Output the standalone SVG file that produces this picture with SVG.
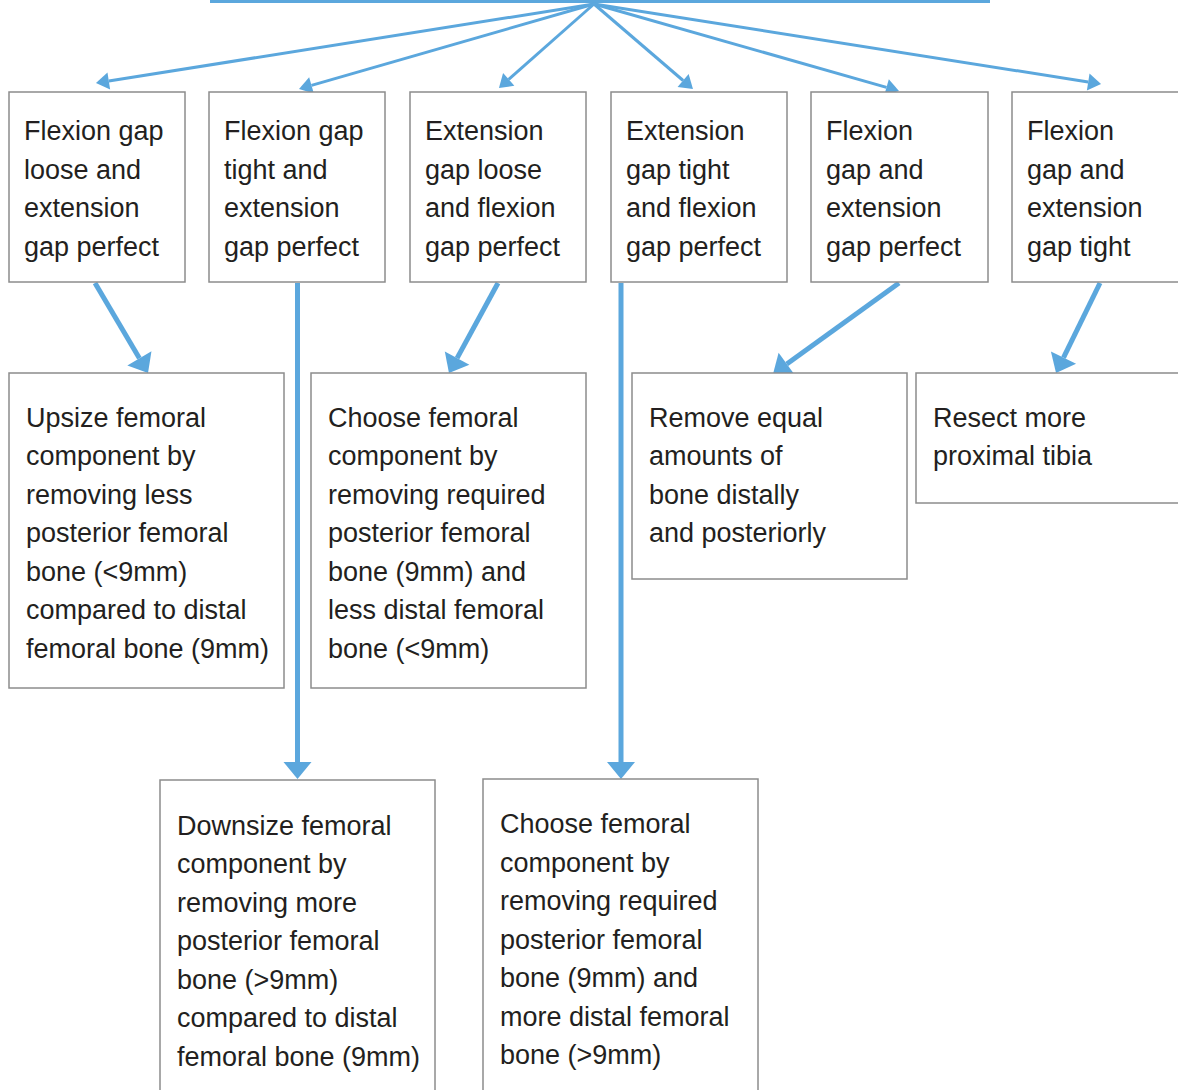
<svg xmlns="http://www.w3.org/2000/svg" width="1178" height="1090" viewBox="0 0 1178 1090">
<style>
.box{fill:#fff;stroke:#8c8c8c;stroke-width:1.5}
.t{font-family:"Liberation Sans",Arial,sans-serif;font-size:27px;fill:#231f20}
.fan{stroke:#5ba7dd;stroke-width:3;fill:none}
.dn{stroke:#5ba7dd;stroke-width:5;fill:none}
</style>
<defs>
<marker id="ah" markerUnits="userSpaceOnUse" markerWidth="13" markerHeight="17" refX="0" refY="8.5" orient="auto" overflow="visible"><path d="M0,0 L13,8.5 L0,17 z" fill="#5ba7dd"/></marker>
<marker id="ah2" markerUnits="userSpaceOnUse" markerWidth="17" markerHeight="28" refX="0" refY="14" orient="auto" overflow="visible"><path d="M0,0 L17,14 L0,28 z" fill="#5ba7dd"/></marker>
</defs>
<rect width="1178" height="1090" fill="#fff"/>
<g id="connectors">
<line class="fan" x1="210" y1="1.5" x2="990" y2="1.5"/>
<line class="fan" x1="594" y1="4" x2="108.8" y2="81" marker-end="url(#ah)"/>
<line class="fan" x1="594" y1="4" x2="311.5" y2="85.4" marker-end="url(#ah)"/>
<line class="fan" x1="594" y1="4" x2="508.7" y2="79.4" marker-end="url(#ah)"/>
<line class="fan" x1="594" y1="4" x2="683.1" y2="80.5" marker-end="url(#ah)"/>
<line class="fan" x1="594" y1="4" x2="886.5" y2="87.4" marker-end="url(#ah)"/>
<line class="fan" x1="594" y1="4" x2="1088.2" y2="82" marker-end="url(#ah)"/>
<line class="dn" x1="95" y1="283" x2="139.4" y2="358.3" marker-end="url(#ah2)"/>
<line class="dn" x1="297.5" y1="283" x2="297.5" y2="762" marker-end="url(#ah2)"/>
<line class="dn" x1="498" y1="283" x2="457.1" y2="358.1" marker-end="url(#ah2)"/>
<line class="dn" x1="621" y1="283" x2="621" y2="762" marker-end="url(#ah2)"/>
<line class="dn" x1="899" y1="283" x2="786.8" y2="364" marker-end="url(#ah2)"/>
<line class="dn" x1="1100" y1="283" x2="1063.5" y2="357.7" marker-end="url(#ah2)"/>
</g>
<g id="b1"><rect class="box" x="9" y="92" width="176" height="190"/>
<text class="t" x="24"><tspan x="24" y="140">Flexion gap</tspan><tspan x="24" y="178.5">loose and</tspan><tspan x="24" y="217">extension</tspan><tspan x="24" y="255.5">gap perfect</tspan></text></g>
<g id="b2"><rect class="box" x="209" y="92" width="176" height="190"/>
<text class="t" x="224"><tspan x="224" y="140">Flexion gap</tspan><tspan x="224" y="178.5">tight and</tspan><tspan x="224" y="217">extension</tspan><tspan x="224" y="255.5">gap perfect</tspan></text></g>
<g id="b3"><rect class="box" x="410" y="92" width="176" height="190"/>
<text class="t" x="425"><tspan x="425" y="140">Extension</tspan><tspan x="425" y="178.5">gap loose</tspan><tspan x="425" y="217">and flexion</tspan><tspan x="425" y="255.5">gap perfect</tspan></text></g>
<g id="b4"><rect class="box" x="611" y="92" width="176" height="190"/>
<text class="t" x="626"><tspan x="626" y="140">Extension</tspan><tspan x="626" y="178.5">gap tight</tspan><tspan x="626" y="217">and flexion</tspan><tspan x="626" y="255.5">gap perfect</tspan></text></g>
<g id="b5"><rect class="box" x="811" y="92" width="177" height="190"/>
<text class="t" x="826"><tspan x="826" y="140">Flexion</tspan><tspan x="826" y="178.5">gap and</tspan><tspan x="826" y="217">extension</tspan><tspan x="826" y="255.5">gap perfect</tspan></text></g>
<g id="b6"><rect class="box" x="1012" y="92" width="180" height="190"/>
<text class="t" x="1027"><tspan x="1027" y="140">Flexion</tspan><tspan x="1027" y="178.5">gap and</tspan><tspan x="1027" y="217">extension</tspan><tspan x="1027" y="255.5">gap tight</tspan></text></g>
<g id="c1"><rect class="box" x="9" y="373" width="275" height="315"/>
<text class="t"><tspan x="26" y="426.5">Upsize femoral</tspan><tspan x="26" y="465">component by</tspan><tspan x="26" y="503.5">removing less</tspan><tspan x="26" y="542">posterior femoral</tspan><tspan x="26" y="580.5">bone (&lt;9mm)</tspan><tspan x="26" y="619">compared to distal</tspan><tspan x="26" y="657.5">femoral bone (9mm)</tspan></text></g>
<g id="c2"><rect class="box" x="311" y="373" width="275" height="315"/>
<text class="t"><tspan x="328" y="426.5">Choose femoral</tspan><tspan x="328" y="465">component by</tspan><tspan x="328" y="503.5">removing required</tspan><tspan x="328" y="542">posterior femoral</tspan><tspan x="328" y="580.5">bone (9mm) and</tspan><tspan x="328" y="619">less distal femoral</tspan><tspan x="328" y="657.5">bone (&lt;9mm)</tspan></text></g>
<g id="c3"><rect class="box" x="632" y="373" width="275" height="206"/>
<text class="t"><tspan x="649" y="426.5">Remove equal</tspan><tspan x="649" y="465">amounts of</tspan><tspan x="649" y="503.5">bone distally</tspan><tspan x="649" y="542">and posteriorly</tspan></text></g>
<g id="c4"><rect class="box" x="916" y="373" width="275" height="130"/>
<text class="t"><tspan x="933" y="426.5">Resect more</tspan><tspan x="933" y="465">proximal tibia</tspan></text></g>
<g id="d1"><rect class="box" x="160" y="780" width="275" height="320"/>
<text class="t"><tspan x="177" y="834.5">Downsize femoral</tspan><tspan x="177" y="873">component by</tspan><tspan x="177" y="911.5">removing more</tspan><tspan x="177" y="950">posterior femoral</tspan><tspan x="177" y="988.5">bone (&gt;9mm)</tspan><tspan x="177" y="1027">compared to distal</tspan><tspan x="177" y="1065.5">femoral bone (9mm)</tspan></text></g>
<g id="d2"><rect class="box" x="483" y="779" width="275" height="320"/>
<text class="t"><tspan x="500" y="833">Choose femoral</tspan><tspan x="500" y="871.5">component by</tspan><tspan x="500" y="910">removing required</tspan><tspan x="500" y="948.5">posterior femoral</tspan><tspan x="500" y="987">bone (9mm) and</tspan><tspan x="500" y="1025.5">more distal femoral</tspan><tspan x="500" y="1064">bone (&gt;9mm)</tspan></text></g>
</svg>
